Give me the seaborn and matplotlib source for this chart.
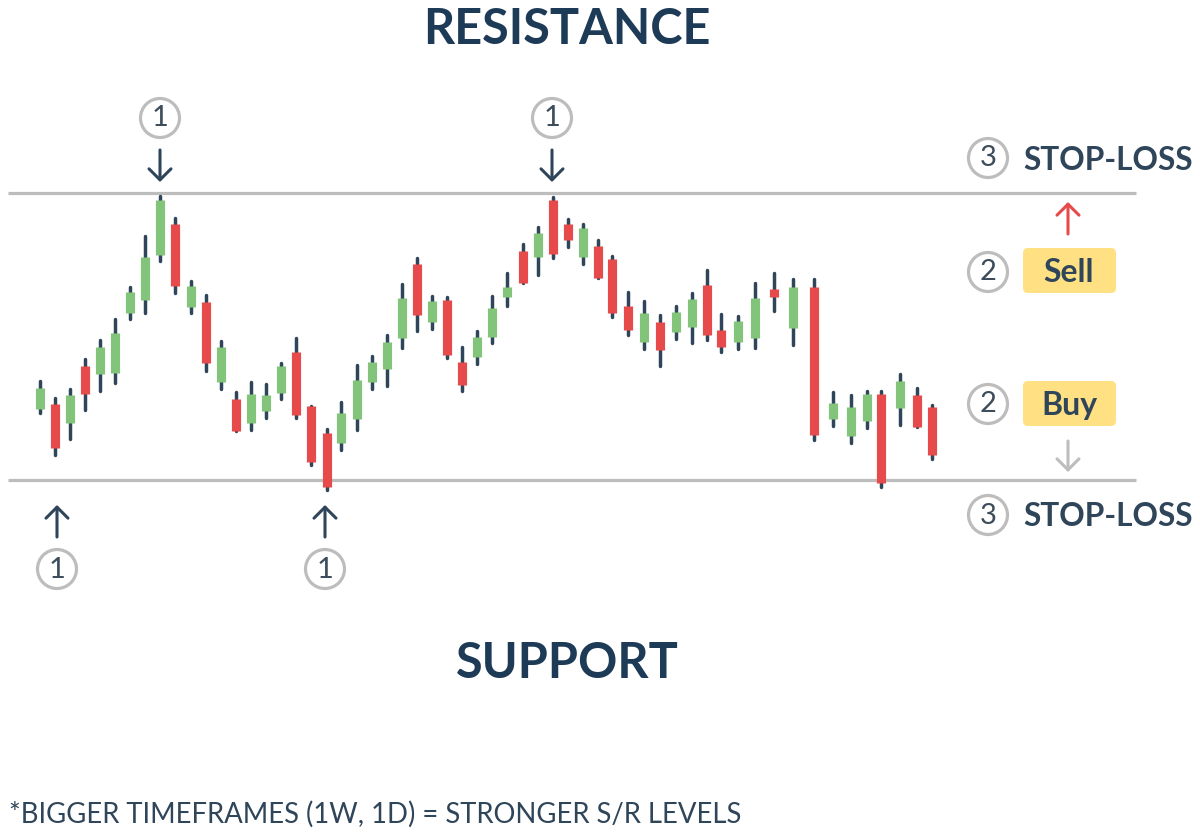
"""Support / resistance candlestick explainer, drawn with seaborn line marks."""
import matplotlib
matplotlib.use("Agg")
import matplotlib.pyplot as plt
from matplotlib.patches import Circle, FancyBboxPatch
import pandas as pd
import seaborn as sns

# ---------------------------------------------------------------------------
# Data
# ---------------------------------------------------------------------------
sessions = [39.7, 54.7, 70, 85, 100, 115.3, 130.3, 145, 160.3, 175.3,
            190.7, 205.7, 220.7, 236, 250.7, 266, 281.3, 296, 311, 326.7,
            341.3, 356.7, 371.7, 386.7, 402, 417, 432, 447.3, 462, 477.3,
            492.3, 507.3, 522.7, 537.7, 552.7, 568, 583, 597.7, 612.3, 628.3,
            644, 659.7, 675.7, 692.3, 707.3, 720.7, 738.3, 755.3, 774, 793.3,
            813.7, 832.7, 850.7, 867, 881.3, 900, 917, 932]
opens = [429, 433.7, 414.7, 471.7, 464, 465, 525.3, 538.3, 582.7, 613.7,
         531.3, 536, 455.7, 439.3, 414.7, 427, 445.3, 486, 431.7, 405.3,
         395.3, 418.7, 455.7, 468.7, 500, 574, 516.3, 537.7, 476.3, 481,
         501, 540.7, 587, 581.3, 638.3, 613.7, 580.7, 591.7, 578.7, 532,
         496, 516, 506, 510.7, 552.7, 508.3, 496.3, 500.3, 548.7, 509.7,
         550.7, 418.7, 402, 417.3, 443.7, 429.7, 442.7, 430.7]
closes = [450, 390.3, 442.7, 444, 491.3, 505, 546, 581, 637.7, 552.3,
          551.7, 474.7, 490.7, 407.3, 444, 443, 472, 423.3, 376, 351.3,
          424.7, 458.3, 475.7, 496.3, 540, 522.7, 536.7, 483.3, 452.7, 501,
          530.3, 551.3, 555, 605.3, 583.7, 597.7, 610, 559.7, 524.7, 508,
          525, 488.3, 526.3, 538.7, 503.3, 491.3, 516.7, 540, 540.7, 551.3,
          403, 434.7, 431, 443.7, 354.7, 457.3, 411, 382.7]
highs = [457, 440.3, 449, 478.7, 498.3, 519.3, 551.3, 602.3, 642.3, 620.3,
         557.3, 542.7, 496.7, 446.3, 455.7, 454.3, 475.3, 500.3, 431.7, 409,
         436.3, 472.7, 481.7, 503.3, 554.3, 580.3, 542.3, 540.7, 491.3, 507,
         542.3, 564.7, 593.7, 611, 641.3, 619.3, 614.3, 598.3, 582, 546.3,
         537, 523, 532.3, 545.3, 567.7, 524, 522.3, 554.7, 565, 558.7,
         558.7, 446.3, 442.7, 447, 447, 464.3, 450, 433.3]
lows = [425.3, 383, 398.7, 428, 447.3, 455, 519, 525.3, 577.3, 545,
        524.7, 467.3, 448.7, 407.3, 407.7, 420, 438.7, 420, 372.7, 348,
        388, 408.3, 448.7, 452, 489.7, 506.7, 509.3, 479.7, 447.3, 473.7,
        494.7, 531.7, 555, 562.7, 580.3, 591.3, 573.7, 559.7, 521.3, 502.7,
        488.7, 472, 499.3, 494.7, 498, 486, 489.3, 490, 526.7, 493.3,
        398, 411.7, 394.7, 410, 351.3, 413, 411, 379.3]

resistance_level = 644.5
support_level = 357.5

# x, y and numeral of the circled step markers
marker_x = [160, 552, 57, 325, 988, 988, 988, 988]
marker_y = [720, 720, 269, 269, 680, 566, 434, 323]
marker_num = ["1", "1", "1", "1", "3", "2", "2", "3"]

# arrows as x, tail y, head y, colour key
arrow_x = [160, 552, 57, 325, 1068, 1068]
arrow_tail = [688, 688, 301, 301, 604, 397]
arrow_head = [656, 656, 333, 333, 636, 366]
arrow_kind = ["dark", "dark", "dark", "dark", "red", "grey"]

NAVY = "#1d3a57"
SLATE = "#2f4559"
GREY = "#bdbdbd"
GREEN = "#82c57a"
RED = "#e64a4a"
YELLOW = "#ffe082"
FONT = ["Lato", "DejaVu Sans"]

# ---------------------------------------------------------------------------
# Long tables for seaborn
# ---------------------------------------------------------------------------
wick_rows = []
body_rows = []
for i, x in enumerate(sessions):
    side = "up" if closes[i] >= opens[i] else "down"
    wick_rows += [(i, x, highs[i]), (i, x, lows[i])]
    body_rows += [(i, x, opens[i], side), (i, x, closes[i], side)]
wicks = pd.DataFrame(wick_rows, columns=["candle", "x", "price"])
bodies = pd.DataFrame(body_rows, columns=["candle", "x", "price", "side"])

sns.set_theme(style="white")
plt.rcParams["font.family"] = FONT

fig = plt.figure(figsize=(12, 8.38), dpi=100, facecolor="white")
ax = fig.add_axes([0, 0, 1, 1])
ax.set_xlim(0, 1200)
ax.set_ylim(0, 838)
ax.axis("off")

# Support and resistance levels
for level in (resistance_level, support_level):
    ax.plot([8, 1136], [level] * 2, color=GREY, lw=2.3,
            solid_capstyle="butt", zorder=1)

# Candles
sns.lineplot(data=wicks, x="x", y="price", units="candle", estimator=None,
             sort=False, color=SLATE, linewidth=2.5, solid_capstyle="round",
             ax=ax, zorder=2, legend=False)
sns.lineplot(data=bodies, x="x", y="price", units="candle", estimator=None,
             sort=False, hue="side", palette={"up": GREEN, "down": RED},
             linewidth=6.6, solid_capstyle="butt", ax=ax, zorder=3, legend=False)
ax.set_xlim(0, 1200)
ax.set_ylim(0, 838)
ax.axis("off")

# Circled step markers
for x, y, num in zip(marker_x, marker_y, marker_num):
    ax.add_patch(Circle((x, y), 19.5, facecolor="white", edgecolor=GREY, lw=2.3, zorder=4))
    ax.text(x, y - 0.5, num, ha="center", va="center", fontsize=21,
            fontweight="normal", color="#3c4c5a", zorder=5)

# Arrows
arrow_colors = {"dark": SLATE, "red": RED, "grey": GREY}
for x, tail, head, kind in zip(arrow_x, arrow_tail, arrow_head, arrow_kind):
    ax.annotate("", xy=(x, head), xytext=(x, tail),
                arrowprops=dict(arrowstyle="->,head_length=0.36,head_width=0.36",
                                color=arrow_colors[kind], lw=2.2,
                                mutation_scale=22, shrinkA=0, shrinkB=0),
                zorder=4)

# Buy / Sell tags
for y_box, label in [(545, "Sell"), (412, "Buy")]:
    ax.add_patch(FancyBboxPatch((1026, y_box + 3), 87, 39,
                                boxstyle="round,pad=3,rounding_size=5",
                                facecolor=YELLOW, edgecolor="none", zorder=4))
    ax.text(1069, y_box + 20, label, ha="center", va="center", fontsize=23,
            fontweight="bold", color=SLATE, zorder=5)

# Labels
ax.text(566.5, 808, "RESISTANCE", ha="center", va="center", fontsize=35,
        fontweight="bold", color=NAVY)
ax.text(567, 175, "SUPPORT", ha="center", va="center", fontsize=35,
        fontweight="bold", color=NAVY)
for y in (678, 321):
    ax.text(1023, y, "STOP-LOSS", ha="left", va="center", fontsize=22.8,
            fontweight="bold", color=SLATE)
ax.text(9, 24, "*BIGGER TIMEFRAMES (1W, 1D) = STRONGER S/R LEVELS", ha="left",
        va="center", fontsize=19.85, fontweight="normal", color=SLATE)

fig.savefig("out.png", dpi=100, facecolor="white")
